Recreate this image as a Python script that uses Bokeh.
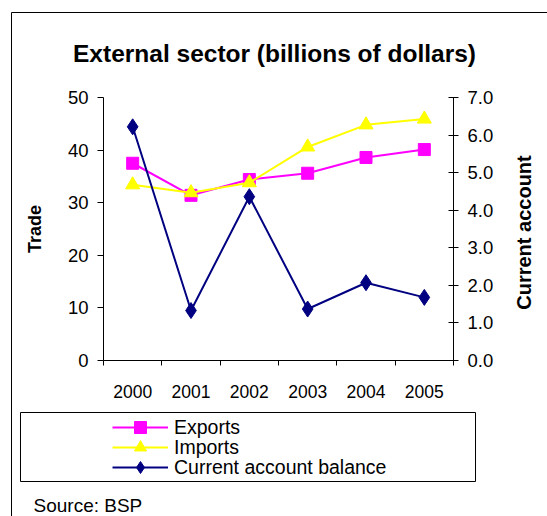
import math
from bokeh.plotting import figure
from bokeh.models import (Range1d, LinearAxis, FixedTicker, NumeralTickFormatter,
                          Legend, LegendItem, Label, BoxAnnotation)
from bokeh.embed import file_html
from bokeh.resources import INLINE

# ---- data ----
years = ["2000", "2001", "2002", "2003", "2004", "2005"]
exports = [37.5, 31.4, 34.4, 35.6, 38.6, 40.1]
imports = [33.4, 31.9, 33.8, 40.6, 44.8, 45.9]
current_account = [6.22, 1.33, 4.36, 1.37, 2.07, 1.68]
trade_ticks = [0, 10, 20, 30, 40, 50]
ca_ticks = [0, 1, 2, 3, 4, 5, 6, 7]
series_names = ["Exports", "Imports", "Current account balance"]
title_text = "External sector (billions of dollars)"
source_text = "Source: BSP"
left_label = "Trade"
right_label = "Current account"

FONT = "Liberation Sans"

# plot-area geometry (canvas pixels); the frame covers the whole canvas
W, H = 547, 516
FL, FR, FT, FB = 103, 453, 97, 360

n = len(years)
xs = [i + 0.5 for i in range(n)]

t0, t1 = trade_ticks[0], trade_ticks[-1]
c0, c1 = ca_ticks[0], ca_ticks[-1]
pxx = (FR - FL) / n
pxt = (FB - FT) / (t1 - t0)
pxc = (FB - FT) / (c1 - c0)

p = figure(width=W, height=H, output_backend="svg", toolbar_location=None,
           x_range=Range1d(-FL / pxx, n + (W - FR) / pxx),
           y_range=Range1d(t0 - (H - FB) / pxt, t1 + FT / pxt),
           min_border=0, min_border_left=0, min_border_right=0,
           min_border_top=0, min_border_bottom=0,
           x_axis_location=None, y_axis_location=None)
p.outline_line_color = None
p.xgrid.visible = False
p.ygrid.visible = False
p.background_fill_color = "white"
p.border_fill_color = "white"
p.extra_y_ranges = {"ca": Range1d(c0 - (H - FB) / pxc, c1 + FT / pxc)}

# x axis: labels at category centres, ticks at boundaries
xaxis = LinearAxis(ticker=FixedTicker(ticks=xs, minor_ticks=list(range(n + 1))),
                   fixed_location=t0, bounds=(0, n))
xaxis.major_label_overrides = {x: y for x, y in zip(xs, years)}
xaxis.major_tick_out = 0
xaxis.major_tick_in = 0
xaxis.minor_tick_out = 5
xaxis.minor_tick_in = 0
xaxis.major_label_standoff = 19
xaxis.major_label_text_font = FONT
xaxis.major_label_text_font_size = "17.5px"
xaxis.major_label_text_color = "black"
xaxis.axis_line_color = "black"
xaxis.minor_tick_line_color = "black"
p.add_layout(xaxis, "below")

# left axis (Trade)
laxis = LinearAxis(ticker=FixedTicker(ticks=trade_ticks, minor_ticks=[]),
                   fixed_location=0, bounds=(t0, t1))
laxis.axis_label = left_label
laxis.axis_label_text_font = FONT
laxis.axis_label_text_font_style = "bold"
laxis.axis_label_text_font_size = "18px"
laxis.axis_label_text_color = "black"
laxis.axis_label_standoff = 20
laxis.major_tick_out = 6
laxis.major_tick_in = 0
laxis.major_label_standoff = 9
laxis.major_label_text_font = FONT
laxis.major_label_text_font_size = "18.5px"
laxis.major_label_text_color = "black"
laxis.axis_line_color = "black"
laxis.major_tick_line_color = "black"
p.add_layout(laxis, "left")

# right axis (Current account)
raxis = LinearAxis(y_range_name="ca", ticker=FixedTicker(ticks=ca_ticks, minor_ticks=[]),
                   formatter=NumeralTickFormatter(format="0.0"),
                   fixed_location=n, bounds=(c0, c1))
raxis.major_tick_out = 5
raxis.major_tick_in = 5
raxis.major_label_standoff = 9
raxis.major_label_text_font = FONT
raxis.major_label_text_font_size = "18.5px"
raxis.major_label_text_color = "black"
raxis.axis_line_color = "black"
raxis.major_tick_line_color = "black"
p.add_layout(raxis, "right")

p.add_layout(Label(x=523, y=H - 232, x_units="screen", y_units="screen",
                   text=right_label, angle=math.pi / 2, text_font=FONT,
                   text_font_style="bold", text_font_size="20px",
                   text_align="center", text_baseline="middle", text_color="black"))

# series
ex_l = p.line(xs, exports, line_color="#FF00FF", line_width=2)
ex_m = p.scatter(xs, exports, marker="square", size=12, fill_color="#FF00FF", line_color="#FF00FF")
im_l = p.line(xs, imports, line_color="#FFFF00", line_width=2)
im_m = p.scatter(xs, imports, marker="triangle", size=14, fill_color="#FFFF00", line_color="#FFFF00")
ca_l = p.line(xs, current_account, line_color="#000080", line_width=2, y_range_name="ca")
ca_m = p.scatter(xs, current_account, marker="diamond", size=16, fill_color="#000080",
                 line_color="#000080", y_range_name="ca")

# outer chart border
p.add_layout(BoxAnnotation(left=11, right=W + 20, top=H - 12, bottom=-40,
                           left_units="screen", right_units="screen",
                           top_units="screen", bottom_units="screen",
                           fill_alpha=0, line_color="black", line_alpha=1, line_width=1))

# legend frame
p.add_layout(BoxAnnotation(left=20, right=475, top=H - 412, bottom=H - 481,
                           left_units="screen", right_units="screen",
                           top_units="screen", bottom_units="screen",
                           fill_alpha=0, line_color="black", line_alpha=1, line_width=1))

# legend: one row per series, rows 20px apart
row_renderers = [[ex_l, ex_m], [im_l, im_m], [ca_l, ca_m]]
for i, (name, rends) in enumerate(zip(series_names, row_renderers)):
    centre = 427 + 20 * i
    lg = Legend(items=[LegendItem(label=name, renderers=rends)],
                location=(112, H - (centre + 15)))
    lg.border_line_alpha = 0
    lg.background_fill_alpha = 0
    lg.padding = 0
    lg.margin = 0
    lg.spacing = 0
    lg.glyph_width = 56
    lg.glyph_height = 30
    lg.label_height = 30
    lg.label_standoff = 6
    lg.label_text_font = FONT
    lg.label_text_font_size = "19.5px"
    lg.label_text_color = "black"
    lg.label_text_baseline = "middle"
    p.add_layout(lg, "center")

# title and source
p.add_layout(Label(x=274, y=H - 53, x_units="screen", y_units="screen",
                   text=title_text, text_font=FONT, text_font_style="bold",
                   text_font_size="24.5px", text_align="center",
                   text_baseline="alphabetic", text_color="black"))
p.add_layout(Label(x=33, y=H - 505, x_units="screen", y_units="screen",
                   text=source_text, text_font=FONT, text_font_size="19px",
                   text_align="left", text_baseline="alphabetic", text_color="black"))

open("out.html", "w").write(file_html(p, INLINE))
